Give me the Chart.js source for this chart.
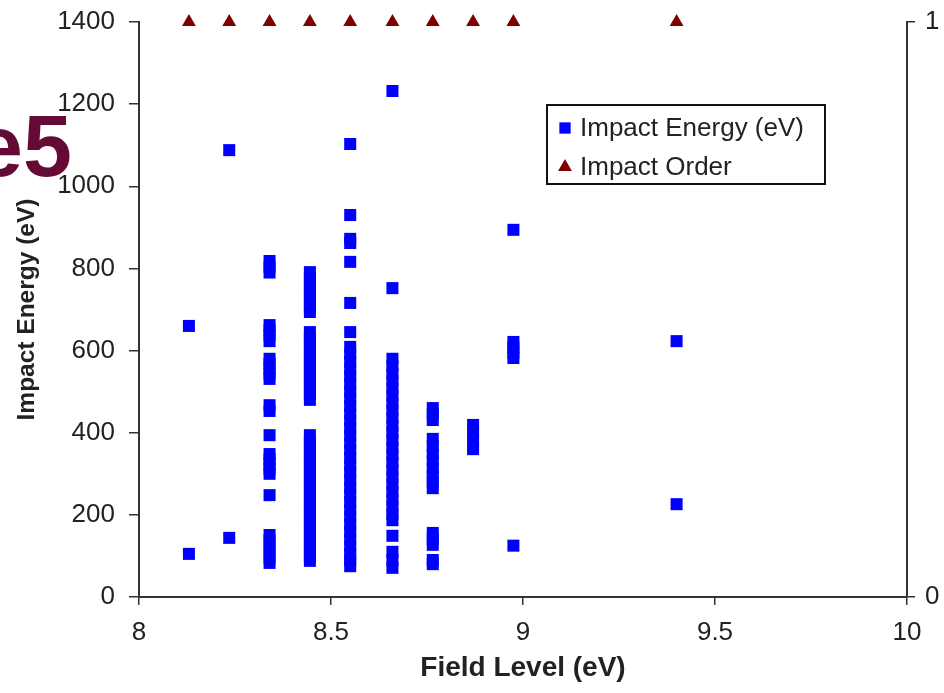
<!DOCTYPE html>
<html>
<head>
<meta charset="utf-8">
<title>Impact Energy vs Field Level</title>
<script src="https://cdn.jsdelivr.net/npm/chart.js@4.4.0/dist/chart.umd.min.js"></script>
<style>
  html, body { margin: 0; padding: 0; background: #fff; }
  #wrap { position: relative; width: 944px; height: 693px; overflow: hidden; }
  #slide-text {
    position: absolute; left: -26px; top: 102px;
    font: bold 88px "Liberation Sans", Arial, sans-serif;
    line-height: 88px; color: #650935; white-space: nowrap;
  }
</style>
</head>
<body>
<div id="wrap">
  <canvas id="impact-chart" width="944" height="693"></canvas>
  <div id="slide-text">e5</div>
</div>
<script>
// field levels (x) – one column of impacts per level
const fieldLevels = [8.13, 8.235, 8.34, 8.445, 8.55, 8.66, 8.765, 8.87, 8.975, 9.4];

// impact energies (eV) read per column, same order as fieldLevels
const impactEnergies = [
  [660, 105],
  [1088, 144],
  [818, 804, 790, 662, 650, 637, 623, 580, 568, 556, 544, 531, 467, 453, 394,
   348, 336, 324, 312, 300, 248, 151, 138, 124, 110, 96, 83],
  [791, 777, 763, 749, 735, 721, 707, 694, 645, 632, 618, 604, 590, 577, 563,
   550, 536, 522, 508, 494, 480, 394, 380, 366, 352, 338, 324, 310, 296, 282,
   268, 254, 240, 226, 212, 198, 184, 170, 156, 142, 128, 114, 100, 88],
  [1103, 930, 872, 862, 816, 716, 645, 609, 591, 573, 555, 537, 519, 501, 483,
   465, 447, 429, 411, 393, 375, 357, 339, 321, 303, 285, 267, 249, 231, 213,
   195, 177, 159, 141, 123, 105, 90, 75],
  [1232, 752, 580, 562, 544, 526, 508, 490, 472, 454, 436, 418, 400, 382, 364,
   346, 328, 310, 292, 274, 256, 238, 220, 202, 187, 149, 110, 90, 71],
  [460, 445, 431, 385, 367, 349, 331, 313, 295, 280, 265, 156, 141, 127, 90, 80],
  [419, 400, 380, 360],
  [894, 621, 608, 595, 582, 125],
  [623, 226]
];

// impact order (secondary axis), one per field level
const impactOrder = [1, 1, 1, 1, 1, 1, 1, 1, 1, 1];

// tick labels
const xTicks = [8, 8.5, 9, 9.5, 10];
const yTicks = [0, 200, 400, 600, 800, 1000, 1200, 1400];
const y2Ticks = [0, 1];

// narrow bold titles if the narrow face is installed
function hasFont(name) {
  const c = document.createElement('canvas').getContext('2d');
  c.font = 'bold 30px monospace';
  const base = c.measureText('Impact Energy (eV)').width;
  c.font = 'bold 30px "' + name + '", monospace';
  return c.measureText('Impact Energy (eV)').width !== base;
}
const narrow = hasFont('Liberation Sans Narrow');
const xTitleFont = narrow
  ? { family: '"Liberation Sans Narrow"', size: 30, weight: 'bold' }
  : { family: '"Liberation Sans"', size: 28, weight: 'bold' };
const yTitleFont = narrow
  ? { family: '"Liberation Sans Narrow"', size: 30, weight: 'bold' }
  : { family: '"Liberation Sans"', size: 24.5, weight: 'bold' };

const tickFont = { family: '"Liberation Sans", Arial, sans-serif', size: 26 };
const axisColor = '#333';
const plainLabel = (v) => String(v);

const energyPoints = impactEnergies.flatMap((col, i) =>
  col.map((e) => ({ x: fieldLevels[i], y: e })),
);
const orderPoints = impactOrder.map((o, i) => ({ x: fieldLevels[i], y: o }));

const setTicks = (values) => (scale) => {
  scale.ticks = values.map((v) => ({ value: v }));
};

// fixed axis box sizes so the plot area lands where the original one is
const fitVertical = (w) => (s) => {
  s.width = w;
  s.paddingTop = 0;
  s.paddingBottom = 0;
};
const fitHorizontal = (h) => (s) => {
  s.height = h;
  s.paddingLeft = 0;
  s.paddingRight = 0;
};

// legend with a border box, drawn from the datasets
const boxedLegend = {
  id: 'boxedLegend',
  afterDraw(chart) {
    const { ctx } = chart;
    const left = 547, top = 105, width = 278, height = 79;
    ctx.save();
    ctx.fillStyle = '#fff';
    ctx.fillRect(left, top, width, height);
    ctx.strokeStyle = '#111';
    ctx.lineWidth = 2;
    ctx.strokeRect(left, top, width, height);
    chart.data.datasets.forEach((ds, i) => {
      const y = top + 23 + i * 39;
      ctx.fillStyle = ds.backgroundColor;
      Chart.helpers.drawPoint(ctx, {
        pointStyle: ds.pointStyle, radius: 8, borderWidth: 0, rotation: 0,
      }, left + 18, y);
      ctx.fillStyle = '#222';
      ctx.font = '26px "Liberation Sans", Arial, sans-serif';
      ctx.textBaseline = 'middle';
      ctx.fillText(ds.label, left + 33, y + 1);
    });
    ctx.restore();
  },
};

const ctx = document.getElementById('impact-chart');
new Chart(ctx, {
  type: 'scatter',
  data: {
    datasets: [
      {
        label: 'Impact Energy (eV)',
        data: energyPoints,
        yAxisID: 'y',
        pointStyle: 'rect',
        pointRadius: 8.5,
        pointHoverRadius: 8.5,
        backgroundColor: '#0000ff',
        borderColor: '#0000ff',
        borderWidth: 0,
        clip: false,
      },
      {
        label: 'Impact Order',
        data: orderPoints,
        yAxisID: 'y2',
        pointStyle: 'triangle',
        pointRadius: 8,
        pointHoverRadius: 8,
        backgroundColor: '#800000',
        borderColor: '#800000',
        borderWidth: 0,
        clip: false,
      },
    ],
  },
  options: {
    responsive: false,
    animation: false,
    events: [],
    layout: { autoPadding: false, padding: { top: 22, left: 0, right: 0, bottom: 0 } },
    plugins: {
      legend: { display: false },
      tooltip: { enabled: false },
    },
    scales: {
      x: {
        type: 'linear',
        position: 'bottom',
        min: 8,
        max: 10,
        afterBuildTicks: setTicks(xTicks),
        afterFit: fitHorizontal(96),
        ticks: { font: tickFont, color: '#222', padding: 12, maxRotation: 0, callback: plainLabel },
        grid: {
          drawOnChartArea: false, tickLength: 8, color: axisColor, lineWidth: 1.5,
        },
        border: { display: true, color: axisColor, width: 2 },
        title: {
          display: true,
          text: 'Field Level (eV)',
          font: xTitleFont,
          color: '#222',
          padding: { top: 0, bottom: 8 },
        },
      },
      y: {
        type: 'linear',
        position: 'left',
        min: 0,
        max: 1400,
        afterBuildTicks: setTicks(yTicks),
        afterFit: fitVertical(139),
        ticks: { font: tickFont, color: '#222', padding: 14, callback: plainLabel },
        grid: {
          drawOnChartArea: false, tickLength: 10, color: axisColor, lineWidth: 1.5,
        },
        border: { display: true, color: axisColor, width: 2 },
        title: {
          display: true,
          text: 'Impact Energy (eV)',
          font: yTitleFont,
          color: '#222',
          padding: { top: 13, bottom: 0 },
        },
      },
      y2: {
        type: 'linear',
        position: 'right',
        min: 0,
        max: 1,
        afterBuildTicks: setTicks(y2Ticks),
        afterFit: fitVertical(37),
        ticks: { font: tickFont, color: '#222', padding: 10, callback: plainLabel },
        grid: {
          drawOnChartArea: false, tickLength: 8, color: axisColor, lineWidth: 1.5,
        },
        border: { display: true, color: axisColor, width: 2 },
      },
    },
  },
  plugins: [boxedLegend],
});
</script>
</body>
</html>
